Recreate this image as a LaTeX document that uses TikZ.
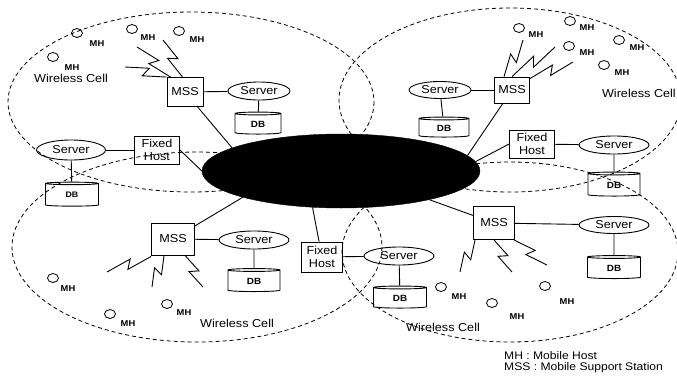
\documentclass[tikz,border=0pt]{standalone}
\usepackage{fontspec}
\setmainfont{Liberation Sans}[FakeStretch=1.1]
\usetikzlibrary{shapes.geometric,calc}
\newcommand\lbl{\fontsize{11.5}{13}\selectfont}
\newcommand\zap[2]{\draw[boltline] #1 -- ($#1!0.56!#2!4.5pt!90:#2$) -- ($#1!0.44!#2!4.5pt!-90:#2$) -- #2;}
\begin{document}
\begin{tikzpicture}[x=1pt,y=-1pt,
  cell/.style={draw, line width=0.8pt, dash pattern=on 4pt off 3pt},
  netnode/.style={ellipse, fill=black, draw=black, minimum width=278, minimum height=74, inner sep=0},
  boxnode/.style={draw, line width=0.9pt, inner sep=0, font=\lbl, align=center},
  mss/.style={boxnode, minimum width=36, minimum height=29},
  fh/.style={boxnode, minimum width=45, minimum height=28},
  srv/.style={ellipse, draw, line width=0.9pt, minimum width=68, minimum height=18, inner sep=0, font=\lbl},
  db/.style={cylinder, shape border rotate=90, draw, line width=0.9pt, aspect=0.2, minimum width=52, minimum height=23, inner sep=0, font=\bfseries\fontsize{9}{9}\selectfont},
  mh/.style={ellipse, draw, line width=0.8pt, minimum width=11, minimum height=9, inner sep=0},
  mhl/.style={font=\bfseries\fontsize{8.5}{9}\selectfont, inner sep=0},
  celltext/.style={font=\lbl, inner sep=0},
  conn/.style={line width=0.9pt},
  boltline/.style={line width=0.9pt, line join=miter}]
\useasboundingbox (0,0) rectangle (677,375);
\clip (0,0) rectangle (677,375);
% cells
\draw[cell] (191,102) ellipse [x radius=183, y radius=90];
\draw[cell] (510,100) ellipse [x radius=171, y radius=92];
\draw[cell] (197,247) ellipse [x radius=185, y radius=95];
\draw[cell] (510,252) ellipse [x radius=168, y radius=90];
% backbone
\node[netnode] (net) at (341,171) {};
% top-left cell
\node[mss] (mssTL) at (185,92) {MSS};
\node[srv, minimum width=62] (srvTL) at (259,91) {Server};
\node[db, minimum width=46, minimum height=22] (dbTL) at (258,124) {DB};
\node[fh] (fhTL) at (157,150) {Fixed\\Host};
\node[srv, minimum width=69, minimum height=20] (srvL) at (71,150) {Server};
\node[db, minimum width=53, minimum height=24, font=\bfseries\fontsize{8}{8}\selectfont] (dbL) at (72,195) {DB};
% top-right cell
\node[mss, minimum width=35, minimum height=26] (mssTR) at (512,90) {MSS};
\node[srv, minimum width=62, minimum height=17] (srvTR) at (440,90) {Server};
\node[db, minimum width=50, minimum height=20] (dbTR) at (444,128) {DB};
\node[fh] (fhTR) at (532,144) {Fixed\\Host};
\node[srv, minimum width=70] (srvR) at (614,145) {Server};
\node[db, minimum height=24] (dbR) at (614,185) {DB};
% bottom-left cell
\node[mss, minimum width=43, minimum height=32] (mssBL) at (173,239) {MSS};
\node[srv, minimum width=70] (srvBL) at (254,240) {Server};
\node[db] (dbBL) at (254,281) {DB};
\node[fh, minimum width=41, minimum height=30] (fhB) at (322,257) {Fixed\\Host};
\node[srv, minimum width=70] (srvB) at (399,256) {Server};
\node[db, minimum width=53, minimum height=22] (dbB) at (400,298) {DB};
% bottom-right cell
\node[mss, minimum width=41, minimum height=33] (mssBR) at (494,223) {MSS};
\node[srv, minimum width=70, minimum height=17] (srvBR) at (614,225) {Server};
\node[db, minimum width=53] (dbBR) at (614,268) {DB};
% wired connectors
\draw[conn] (mssTL) -- (srvTL);
\draw[conn] (srvTL) -- (dbTL);
\draw[conn] (mssTL) -- (net.168);
\draw[conn] (fhTL.east) -- (net.180);
\draw[conn] (srvL) -- (fhTL);
\draw[conn] (srvL) -- (dbL);
\draw[conn] (srvTR) -- (mssTR);
\draw[conn] (srvTR) -- (dbTR);
\draw[conn] (mssTR) -- (net.7);
\draw[conn] (fhTR.west) -- (net.4);
\draw[conn] (fhTR) -- (srvR);
\draw[conn] (srvR) -- (dbR);
\draw[conn] (mssBL) -- (net.195);
\draw[conn] (mssBL) -- (srvBL);
\draw[conn] (srvBL) -- (dbBL);
\draw[conn] (fhB) -- (net.232);
\draw[conn] (fhB) -- (srvB);
\draw[conn] (srvB) -- (dbB);
\draw[conn] (mssBR) -- (net.342);
\draw[conn] (mssBR) -- (srvBR);
\draw[conn] (srvBR) -- (dbBR);
% mobile hosts
\node[mh] (mh1) at (77,33) {};  \node[mhl] at (97,44) {MH};
\node[mh] (mh2) at (53,57) {};  \node[mhl] at (72,68) {MH};
\node[mh] (mh3) at (132,29) {}; \node[mhl] at (148,38) {MH};
\node[mh] (mh4) at (179,31) {}; \node[mhl] at (197,40) {MH};
\node[mh] (mh5) at (519,28) {}; \node[mhl] at (536,35) {MH};
\node[mh] (mh6) at (570,21) {}; \node[mhl] at (587,28) {MH};
\node[mh] (mh7) at (569,46) {}; \node[mhl] at (587,53) {MH};
\node[mh] (mh8) at (619,40) {}; \node[mhl] at (637,48) {MH};
\node[mh] (mh9) at (604,65) {}; \node[mhl] at (622,73) {MH};
\node[mh] (mh10) at (53,278) {};  \node[mhl] at (68,289) {MH};
\node[mh] (mh11) at (110,314) {}; \node[mhl] at (128,324) {MH};
\node[mh] (mh12) at (167,304) {}; \node[mhl] at (184,313) {MH};
\node[mh] (mh13) at (441,287) {}; \node[mhl] at (459,297) {MH};
\node[mh] (mh14) at (492,303) {}; \node[mhl] at (517,317) {MH};
\node[mh] (mh15) at (545,286) {}; \node[mhl] at (567,302) {MH};
% wireless links
\coordinate (b1) at (125,67); \coordinate (b2) at (137,47); \coordinate (b3) at (163,40);
\zap{(b1)}{(mssTL.north west)}
\zap{(b2)}{([xshift=4]mssTL.north west)}
\zap{(b3)}{([xshift=16]mssTL.north west)}
\coordinate (b4) at (523,40); \coordinate (b5) at (555,47); \coordinate (b6) at (573,62);
\zap{(b4)}{([xshift=10]mssTR.north west)}
\zap{(b5)}{([xshift=18]mssTR.north west)}
\zap{(b6)}{([yshift=-2]mssTR.north east)}
\coordinate (b7) at (107,272); \coordinate (b8) at (152,287); \coordinate (b9) at (203,287);
\zap{(b7)}{([yshift=-1]mssBL.south west)}
\zap{(b8)}{([xshift=13]mssBL.south west)}
\zap{(b9)}{([xshift=-10]mssBL.south east)}
\coordinate (b10) at (460,272); \coordinate (b11) at (512,272); \coordinate (b12) at (547,265);
\zap{(b10)}{([xshift=2]mssBR.south west)}
\zap{(b11)}{(mssBR.south)}
\zap{(b12)}{([xshift=-1]mssBR.south east)}
% labels
\node[celltext] (wc1) at (71,78) {Wireless Cell};
\node[celltext, anchor=east] (wc2) at (676,93) {Wireless Cell};
\node[celltext] (wc3) at (237,323) {Wireless Cell};
\node[celltext] (wc4) at (443,327) {Wireless Cell};
\node[celltext, anchor=west, font=\fontsize{11}{12}\selectfont] (lg1) at (504,355.5) {MH : Mobile Host};
\node[celltext, anchor=west, font=\fontsize{11}{12}\selectfont] (lg2) at (504,368) {MSS : Mobile Support Station};
\end{tikzpicture}
\end{document}
